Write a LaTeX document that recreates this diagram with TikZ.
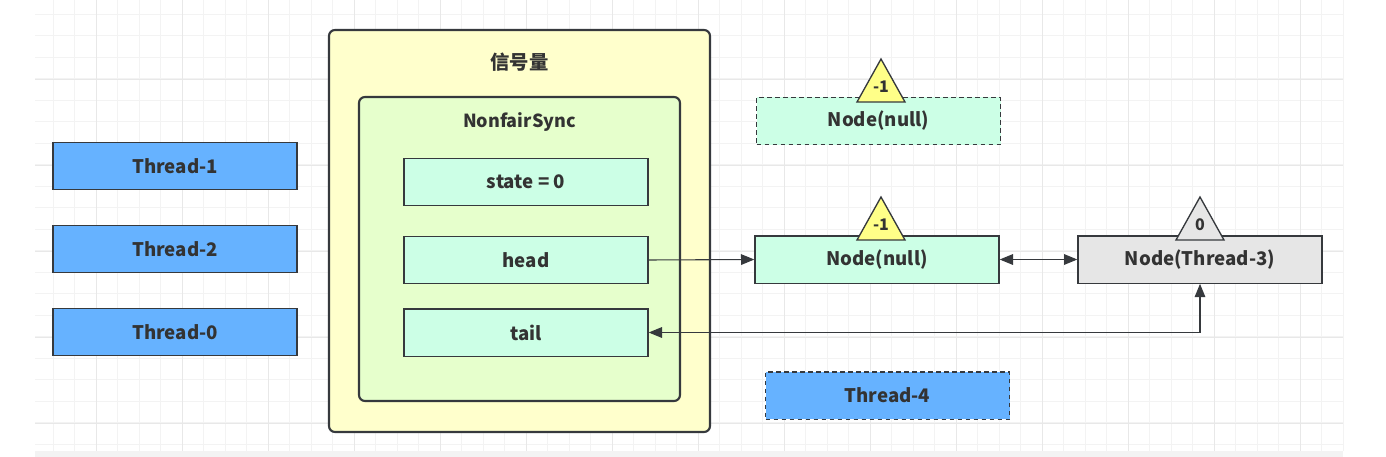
\documentclass[tikz,border=0pt]{standalone}
\usepackage{fontspec}
\setmainfont{Noto Sans CJK SC}
\usetikzlibrary{arrows.meta}
\definecolor{txt}{HTML}{333333}
\definecolor{edge}{HTML}{36393D}
\definecolor{thblue}{HTML}{66B2FF}
\definecolor{mint}{HTML}{CCFFE6}
\definecolor{outery}{HTML}{FFFFCC}
\definecolor{innerg}{HTML}{E6FFCC}
\definecolor{grayn}{HTML}{E6E6E6}
\definecolor{triy}{HTML}{FFFF88}
\definecolor{gridminor}{HTML}{F3F3F3}
\definecolor{gridmajor}{HTML}{E8E8E8}
\tikzset{
  x=0.75pt, y=-0.75pt,
  box/.style={draw=edge, line width=1pt, text=txt, font=\bfseries\fontsize{14}{16}\selectfont,
    minimum width=183pt, minimum height=35.5pt, inner sep=0pt},
  thr/.style={box, fill=thblue},
  fld/.style={box, fill=mint},
  dashbox/.style={dashed, dash pattern=on 3.5pt off 2.5pt},
  tri/.style={draw=edge, line width=1pt, line join=miter},
  trilabel/.style={text=txt, font=\bfseries\fontsize{12}{13}\selectfont, inner sep=0pt},
  conn/.style={draw=edge, line width=0.8pt, -{Triangle[length=10pt,width=8pt]}},
  dconn/.style={draw=edge, line width=0.8pt, {Triangle[length=10pt,width=8pt]}-{Triangle[length=10pt,width=8pt]}},
  title/.style={text=txt, font=\bfseries\fontsize{14.5}{16}\selectfont, inner sep=0pt},
}
\begin{document}
\begin{tikzpicture}
\useasboundingbox (0,0) rectangle (1386,457);
\fill[white] (0,0) rectangle (1386,457);
% grid
\foreach \x in {53,74.5,...,1344} \draw[gridminor, line width=0.75pt] (\x,0) -- (\x,451);
\foreach \y in {14,35.5,...,451} \draw[gridminor, line width=0.75pt] (35,\y) -- (1343,\y);
\foreach \x in {96,182,...,1344} \draw[gridmajor, line width=0.75pt] (\x,0) -- (\x,451);
\foreach \y in {79,165,...,451} \draw[gridmajor, line width=0.75pt] (35,\y) -- (1343,\y);
\fill[gridminor] (35,451) rectangle (1343,457);

% containers
\draw[draw=edge, fill=outery, line width=1.6pt, rounded corners=4.5pt] (329,30) rectangle (710,432);
\node[title] (sem) at (519.5,62) {信号量};
\draw[draw=edge, fill=innerg, line width=1.6pt, rounded corners=4.5pt] (359,97) rectangle (680,401);
\node[title, font=\bfseries\fontsize{13.5}{16}\selectfont] (nfs) at (519.5,122) {NonfairSync};

% fields
\node[fld] (state) at (526,182) {state = 0};
\node[fld] (head) at (526,260) {head};
\node[fld] (tail) at (526,332.5) {tail};

% threads
\node[thr] (t1) at (175,166) {Thread-1};
\node[thr] (t2) at (175,249) {Thread-2};
\node[thr] (t0) at (175,332) {Thread-0};
\node[thr, dashbox] (t4) at (887.5,395.5) {Thread-4};

% nodes
\node[fld, dashbox] (ndash) at (878.5,121) {Node(null)};
\node[fld] (nnull) at (877,259.5) {Node(null)};
\node[box, fill=grayn] (n3) at (1200,259.5) {Node(Thread-3)};

% triangles
\filldraw[tri, fill=triy] (881,59) -- (905,102) -- (857,102) -- cycle;
\node[trilabel] (w1) at (881,87) {-1};
\filldraw[tri, fill=triy] (881,197) -- (905,240) -- (857,240) -- cycle;
\node[trilabel] (w2) at (881,225) {-1};
\filldraw[tri, fill=grayn] (1200,197) -- (1224,240) -- (1176,240) -- cycle;
\node[trilabel] (w3) at (1200,225) {0};

% connectors
\draw[conn] (head.east) -- (nnull.west);
\draw[dconn] (nnull.east) -- (n3.west);
\draw[dconn] (n3.south) |- (tail.east);
\end{tikzpicture}
\end{document}
